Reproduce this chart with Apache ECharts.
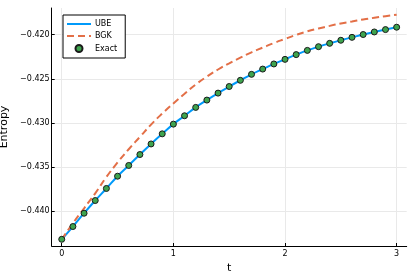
<!DOCTYPE html>
<html>
<head>
<meta charset="utf-8">
<script src="https://cdn.jsdelivr.net/npm/echarts@6/dist/echarts.min.js"></script>
<style>
html,body{margin:0;padding:0;background:#fff;}
#c{width:415px;height:277px;}
</style>
</head>
<body>
<div id="c"></div>
<script>
var tValues = [0.0,0.1,0.2,0.3,0.4,0.5,0.6,0.7,0.8,0.9,1.0,1.1,1.2,1.3,1.4,1.5,1.6,1.7,1.8,1.9,2.0,2.1,2.2,2.3,2.4,2.5,2.6,2.7,2.8,2.9,3.0];
var ubeValues = [-0.44322,-0.44177,-0.44026,-0.43882,-0.43745,-0.43606,-0.43484,-0.43360,-0.43240,-0.43125,-0.43015,-0.42920,-0.42825,-0.42742,-0.42663,-0.42588,-0.42518,-0.42450,-0.42390,-0.42332,-0.42280,-0.42226,-0.42178,-0.42136,-0.42098,-0.42063,-0.42030,-0.41998,-0.41969,-0.41942,-0.41915];
var bgkValues = [-0.44322,-0.44140,-0.43970,-0.43800,-0.43615,-0.43450,-0.43300,-0.43160,-0.43020,-0.42895,-0.42780,-0.42670,-0.42565,-0.42475,-0.42395,-0.42325,-0.42260,-0.42200,-0.42147,-0.42095,-0.42048,-0.42002,-0.41962,-0.41930,-0.41900,-0.41872,-0.41850,-0.41827,-0.41808,-0.41790,-0.41773];
var exactValues = [-0.44322,-0.44177,-0.44026,-0.43882,-0.43745,-0.43606,-0.43484,-0.43360,-0.43240,-0.43125,-0.43015,-0.42920,-0.42825,-0.42742,-0.42663,-0.42588,-0.42518,-0.42450,-0.42390,-0.42332,-0.42280,-0.42226,-0.42178,-0.42136,-0.42098,-0.42063,-0.42030,-0.41998,-0.41969,-0.41942,-0.41915];
var xTicks = [0,1,2,3];
var yTicks = [-0.440,-0.435,-0.430,-0.425,-0.420];

function pairs(xs, ys){ return xs.map(function(x,i){ return [x, ys[i]]; }); }

var FONT = 'DejaVu Sans';
var hidden = {color:'rgba(0,0,0,0)', borderWidth:0, borderColor:'rgba(0,0,0,0)'};
var chart = echarts.init(document.getElementById('c'), null, {renderer:'canvas'});
chart.setOption({
  animation:false,
  backgroundColor:'#ffffff',
  textStyle:{fontFamily:FONT},
  grid:{left:51.7, right:8.3, top:8, bottom:31, containLabel:false, outerBoundsMode:'none'},
  legend:{
    orient:'vertical', left:63, top:15,
    padding:[5,8,5,3],
    itemWidth:24, itemHeight:7, itemGap:4,
    borderColor:'#000', borderWidth:1, backgroundColor:'#fff',
    textStyle:{fontFamily:FONT, fontSize:8, color:'#000', padding:[0,0,0,-1]},
    data:[{name:'UBE', itemStyle:hidden},{name:'BGK', itemStyle:hidden},{name:'Exact', icon:'circle'}]
  },
  xAxis:{
    type:'value', min:-0.09, max:3.09,
    name:'t', nameLocation:'middle', nameGap:13,
    nameTextStyle:{fontFamily:FONT, fontSize:11, color:'#000'},
    axisLine:{show:true, onZero:false, lineStyle:{color:'#000', width:1}},
    axisTick:{show:true, inside:true, length:3, customValues:xTicks, lineStyle:{color:'#000'}},
    axisLabel:{customValues:xTicks, fontFamily:FONT, fontSize:8, color:'#000', margin:4,
      formatter:function(v){ return String(Math.round(v)); }},
    splitLine:{show:true, lineStyle:{color:'#e9e9e9', width:1}}
  },
  yAxis:{
    type:'value', min:-0.44398, max:-0.41697,
    name:'Entropy', nameLocation:'middle', nameGap:32, nameRotate:90,
    nameTextStyle:{fontFamily:FONT, fontSize:11, color:'#000'},
    axisLine:{show:true, onZero:false, lineStyle:{color:'#000', width:1}},
    axisTick:{show:true, inside:true, length:3, customValues:yTicks, lineStyle:{color:'#000'}},
    axisLabel:{customValues:yTicks, fontFamily:FONT, fontSize:8, color:'#000', margin:2,
      formatter:function(v){ var s = Math.abs(v).toFixed(3); return (v<0?'\u2212':'')+s; }},
    splitLine:{show:true, lineStyle:{color:'#e9e9e9', width:1}}
  },
  series:[
    {name:'UBE', type:'line', data:pairs(tValues, ubeValues), showSymbol:false, symbol:'none', smooth:true,
      lineStyle:{color:'#009AFA', width:2}, itemStyle:{color:'#009AFA'}, z:2},
    {name:'BGK', type:'line', data:pairs(tValues, bgkValues), showSymbol:false, symbol:'none', smooth:true,
      lineStyle:{color:'#E36F47', width:2, type:[7,4]}, itemStyle:{color:'#E36F47'}, z:2},
    {name:'Exact', type:'scatter', data:pairs(tValues, exactValues), symbol:'circle', symbolSize:6,
      itemStyle:{color:'#3EA44E', borderColor:'#1a1a1a', borderWidth:1, opacity:1}, z:3}
  ]
});
</script>
</body>
</html>
